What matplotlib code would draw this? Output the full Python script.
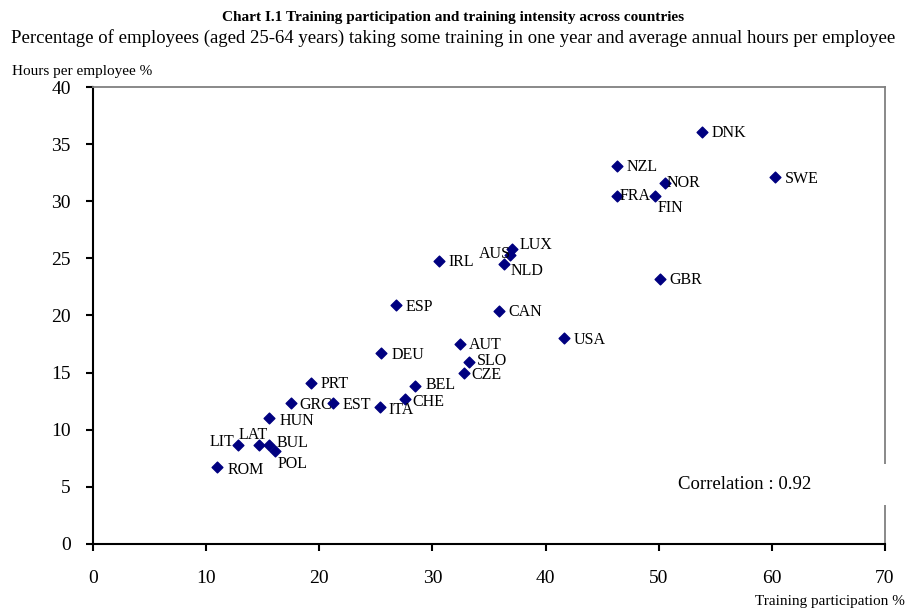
import matplotlib.pyplot as plt
from matplotlib.patches import Rectangle

plt.rcParams['font.family'] = ['Liberation Serif', 'DejaVu Serif']

countries = ["DNK", "SWE", "NZL", "NOR", "FRA", "FIN", "GBR", "LUX", "AUS", "NLD",
             "IRL", "ESP", "CAN", "USA", "AUT", "SLO", "CZE", "DEU", "BEL", "CHE",
             "ITA", "EST", "GRC", "PRT", "HUN", "LIT", "LAT", "BUL", "POL", "ROM"]
participation = [53.8, 60.3, 46.3, 50.6, 46.3, 49.7, 50.1, 37.0, 36.9, 36.3,
                 30.6, 26.8, 35.9, 41.6, 32.4, 33.2, 32.8, 25.5, 28.5, 27.6,
                 25.4, 21.2, 17.5, 19.3, 15.6, 12.8, 14.7, 15.6, 16.1, 11.0]
hours = [36.1, 32.1, 33.1, 31.6, 30.5, 30.5, 23.2, 25.8, 25.3, 24.5,
         24.8, 20.9, 20.4, 18.0, 17.5, 15.9, 15.0, 16.7, 13.8, 12.7,
         12.0, 12.3, 12.3, 14.1, 11.0, 8.7, 8.7, 8.7, 8.1, 6.7]

# label offsets in points (default: right of the marker)
offsets = {"FRA": (2, 0), "FIN": (2, -9), "NOR": (1, 0), "AUS": (-23, 1),
           "LUX": (6, 3), "NLD": (5, -5), "SLO": (6, 1), "CZE": (5, -2),
           "CHE": (5, -2), "ITA": (6, -2), "BEL": (7, 1), "GRC": (6, -1),
           "EST": (7, -1), "LIT": (-20, 2), "LAT": (-15, 7), "BUL": (5, 1),
           "POL": (2, -9), "ROM": (7, -2), "HUN": (7, -2), "DEU": (7, -1),
           "AUT": (7, -1)}

fig = plt.figure(figsize=(9.07, 6.11), dpi=100)
ax = fig.add_axes([0.1025, 0.1097, 0.8732, 0.7479])

ax.scatter(participation, hours, marker="D", s=30, color="#000080", zorder=3)
for name, xv, yv in zip(countries, participation, hours):
    dx, dy = offsets.get(name, (7, -1))
    ax.annotate(name, (xv, yv), xytext=(dx, dy), textcoords="offset points",
                fontsize=11.5, va="center", ha="left", color="black", zorder=4)

ax.set_xlim(0, 70)
ax.set_ylim(0, 40)
ax.set_xticks(range(0, 71, 10))
ax.set_yticks(range(0, 41, 5))
ax.tick_params(axis="both", labelsize=14, direction="out", length=5, width=1.5)
ax.tick_params(axis="x", pad=14)
ax.tick_params(axis="y", pad=11)
ax.spines["left"].set_linewidth(1.5)
ax.spines["bottom"].set_linewidth(1.5)
ax.spines["top"].set_color("#808080")
ax.spines["right"].set_color("#808080")
ax.spines["top"].set_linewidth(1.3)
ax.spines["right"].set_linewidth(1.3)

# white patch behind the correlation note, cutting the right frame
ax.add_patch(Rectangle((0.96, 0.085), 0.05, 0.09, transform=ax.transAxes,
                       facecolor="white", edgecolor="none", clip_on=False, zorder=5))
ax.text(0.739, 0.13, "Correlation : 0.92", transform=ax.transAxes, fontsize=13.5,
        ha="left", va="center", zorder=6)

fig.text(0.5, 0.972, "Chart I.1 Training participation and training intensity across countries",
         ha="center", va="center", fontsize=11, fontweight="bold")
fig.text(0.5, 0.937, "Percentage of employees (aged 25-64 years) taking some training in one year "
         "and average annual hours per employee", ha="center", va="center", fontsize=13.5)
fig.text(0.013, 0.883, "Hours per employee %", ha="left", va="center", fontsize=11)
fig.text(0.998, 0.015, "Training participation %", ha="right", va="center", fontsize=11)

fig.savefig("out.png", dpi=100)
